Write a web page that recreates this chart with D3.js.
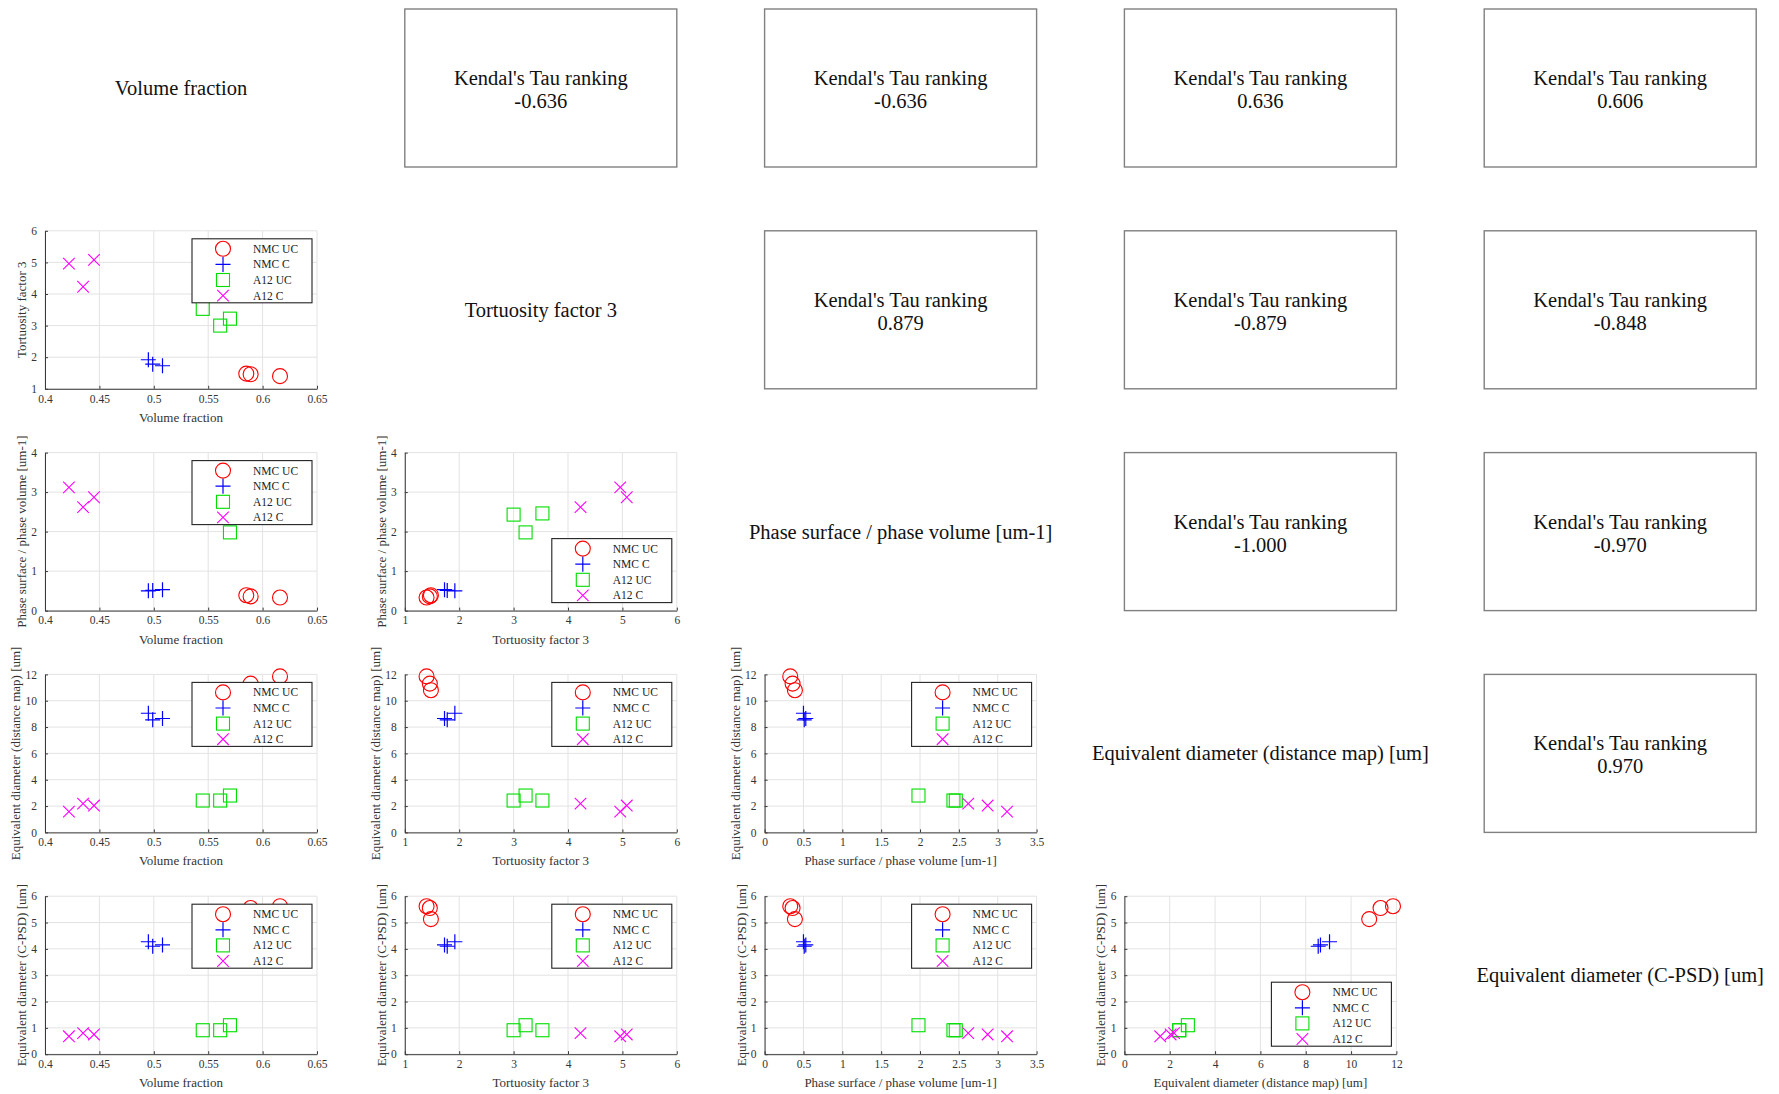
<!DOCTYPE html>
<html>
<head>
<meta charset="utf-8">
<script src="https://cdn.jsdelivr.net/npm/d3@7"></script>
<style>
  html, body { margin: 0; padding: 0; background: #fff; }
  svg { display: block; font-family: "Liberation Serif", "Times New Roman", serif; }
</style>
</head>
<body>
<svg id="chart" width="1779" height="1094"></svg>
<script>
// Microstructure descriptors, one array per descriptor, three samples per electrode group
const groups = ["NMC UC", "NMC C", "A12 UC", "A12 C"];
const groupColors = ["#ff0000", "#0000ff", "#00dd00", "#ff00ff"];
const groupSymbols = ["circle", "plus", "square", "cross"];

const volumeFraction = [
  [0.616, 0.589, 0.585],
  [0.495, 0.499, 0.508],
  [0.545, 0.561, 0.570],
  [0.422, 0.435, 0.445]
];
const tortuosity = [
  [1.40, 1.46, 1.48],
  [1.92, 1.78, 1.73],
  [3.53, 3.00, 3.22],
  [4.96, 4.23, 5.08]
];
const surfaceToVolume = [
  [0.33, 0.36, 0.39],
  [0.50, 0.51, 0.53],
  [2.46, 2.43, 1.98],
  [3.12, 2.62, 2.87]
];
const diameterDistanceMap = [
  [11.85, 11.30, 10.80],
  [9.05, 8.55, 8.65],
  [2.42, 2.42, 2.80],
  [1.58, 2.19, 2.04]
];
const diameterCPSD = [
  [5.62, 5.55, 5.13],
  [4.27, 4.10, 4.15],
  [0.91, 0.91, 1.10],
  [0.68, 0.80, 0.75]
];

const variableNames = [
  "Volume fraction",
  "Tortuosity factor 3",
  "Phase surface / phase volume [um-1]",
  "Equivalent diameter (distance map) [um]",
  "Equivalent diameter (C-PSD) [um]"
];
const variableData = [volumeFraction, tortuosity, surfaceToVolume, diameterDistanceMap, diameterCPSD];

// Axis ranges and tick values when a descriptor sits on x or on y
const xDomains = [[0.4, 0.65], [1, 6], [0, 3.5], [0, 12]];
const xTicks = [
  [0.4, 0.45, 0.5, 0.55, 0.6, 0.65],
  [1, 2, 3, 4, 5, 6],
  [0, 0.5, 1, 1.5, 2, 2.5, 3, 3.5],
  [0, 2, 4, 6, 8, 10, 12]
];
const yDomains = [null, [1, 6], [0, 4], [0, 12], [0, 6]];
const yTicks = [
  null,
  [1, 2, 3, 4, 5, 6],
  [0, 1, 2, 3, 4],
  [0, 2, 4, 6, 8, 10, 12],
  [0, 1, 2, 3, 4, 5, 6]
];

// Kendall's tau for each pair above the diagonal, keyed "row-col"
const kendallTau = {
  "0-1": "-0.636", "0-2": "-0.636", "0-3": "0.636", "0-4": "0.606",
  "1-2": "0.879", "1-3": "-0.879", "1-4": "-0.848",
  "2-3": "-1.000", "2-4": "-0.970",
  "3-4": "0.970"
};

// Panels whose legend sits at the bottom right instead of top right
const bottomLegendPanels = ["2-1", "4-3"];

const svg = d3.select("#chart");
const n = 5;
const cellX0 = 45, cellDX = 359.8, cellY0 = 9, cellDY = 221.8;
const W = 272, H = 158;

function drawMarker(sel, symbol, color) {
  const s = 7.5;
  if (symbol === "circle") {
    sel.append("circle").attr("r", s).attr("fill", "none").attr("stroke", color).attr("stroke-width", 1.1);
  } else if (symbol === "plus") {
    sel.append("path").attr("d", `M${-s},0H${s}M0,${-s}V${s}`).attr("fill", "none").attr("stroke", color).attr("stroke-width", 1.2);
  } else if (symbol === "square") {
    const h = 6.5;
    sel.append("rect").attr("x", -h).attr("y", -h).attr("width", 2 * h).attr("height", 2 * h)
      .attr("fill", "none").attr("stroke", color).attr("stroke-width", 1.1);
  } else {
    const h = 5.8;
    sel.append("path").attr("d", `M${-h},${-h}L${h},${h}M${-h},${h}L${h},${-h}`)
      .attr("fill", "none").attr("stroke", color).attr("stroke-width", 1.1);
  }
}

const fmt = v => String(+v.toFixed(4));

for (let r = 0; r < n; r++) {
  for (let c = 0; c < n; c++) {
    const x0 = cellX0 + c * cellDX;
    const y0 = cellY0 + r * cellDY;
    const g = svg.append("g").attr("transform", `translate(${x0},${y0})`);

    if (r === c) {
      g.append("text")
        .attr("x", W / 2).attr("y", H / 2 + 7)
        .attr("text-anchor", "middle")
        .attr("font-size", 20.5).attr("fill", "#111")
        .text(variableNames[r]);
      continue;
    }

    if (c > r) {
      g.append("rect").attr("x", 0).attr("y", 0).attr("width", W).attr("height", H)
        .attr("fill", "#fff").attr("stroke", "#808080").attr("stroke-width", 1.4);
      const t = g.append("text").attr("text-anchor", "middle").attr("font-size", 20.5).attr("fill", "#111");
      t.append("tspan").attr("x", W / 2).attr("y", H / 2 - 3).text("Kendal's Tau ranking");
      t.append("tspan").attr("x", W / 2).attr("y", H / 2 + 20).text(kendallTau[`${r}-${c}`]);
      continue;
    }

    // Scatter panel: descriptor c on x, descriptor r on y
    const x = d3.scaleLinear().domain(xDomains[c]).range([0, W]);
    const y = d3.scaleLinear().domain(yDomains[r]).range([H, 0]);

    // grid
    g.append("g").selectAll("line").data(xTicks[c]).join("line")
      .attr("x1", d => x(d)).attr("x2", d => x(d)).attr("y1", 0).attr("y2", H)
      .attr("stroke", "#e3e3e3").attr("stroke-width", 1);
    g.append("g").selectAll("line").data(yTicks[r]).join("line")
      .attr("x1", 0).attr("x2", W).attr("y1", d => y(d)).attr("y2", d => y(d))
      .attr("stroke", "#e3e3e3").attr("stroke-width", 1);

    // axes
    const xAxis = g.append("g").attr("transform", `translate(0,${H})`)
      .call(d3.axisBottom(x).tickValues(xTicks[c]).tickFormat(fmt).tickSizeInner(-3).tickSizeOuter(0).tickPadding(8));
    const yAxis = g.append("g")
      .call(d3.axisLeft(y).tickValues(yTicks[r]).tickFormat(fmt).tickSizeInner(-3).tickSizeOuter(0).tickPadding(8));
    [xAxis, yAxis].forEach(a => {
      a.select(".domain").attr("stroke", "#3a3a3a").attr("stroke-width", 1);
      a.selectAll(".tick line").attr("stroke", "#3a3a3a");
      a.selectAll(".tick text").attr("font-family", "Liberation Serif, serif")
        .attr("font-size", 11.5).attr("fill", "#333");
    });
    xAxis.selectAll(".tick text").attr("dy", "0.5em");

    // axis titles
    g.append("text").attr("x", W / 2).attr("y", H + 33)
      .attr("text-anchor", "middle").attr("font-size", 13).attr("fill", "#333")
      .text(variableNames[c]);
    let maxTickW = 0;
    yAxis.selectAll(".tick text").each(function () { maxTickW = Math.max(maxTickW, this.getBBox().width); });
    const ylx = -(maxTickW + 13);
    g.append("text")
      .attr("transform", `translate(${ylx},${H / 2}) rotate(-90)`)
      .attr("text-anchor", "middle").attr("font-size", 13).attr("fill", "#333")
      .text(variableNames[r]);

    // points
    groups.forEach((grp, gi) => {
      const xs = variableData[c][gi], ys = variableData[r][gi];
      xs.forEach((xv, i) => {
        const m = g.append("g").attr("transform", `translate(${x(xv)},${y(ys[i])})`);
        drawMarker(m, groupSymbols[gi], groupColors[gi]);
      });
    });

    // legend
    const lw = 120, lh = 64;
    const lx = 147;
    const ly = bottomLegendPanels.includes(`${r}-${c}`) ? H - 8 - lh : 8;
    const lg = g.append("g").attr("transform", `translate(${lx},${ly})`);
    lg.append("rect").attr("width", lw).attr("height", lh)
      .attr("fill", "#fff").attr("stroke", "#222").attr("stroke-width", 1.1);
    groups.forEach((grp, gi) => {
      const yy = 10 + gi * 15.6;
      const m = lg.append("g").attr("transform", `translate(31,${yy})`);
      drawMarker(m, groupSymbols[gi], groupColors[gi]);
      lg.append("text").attr("x", 61).attr("y", yy + 4)
        .attr("font-size", 11.5).attr("fill", "#222").text(grp);
    });
  }
}
</script>
</body>
</html>
